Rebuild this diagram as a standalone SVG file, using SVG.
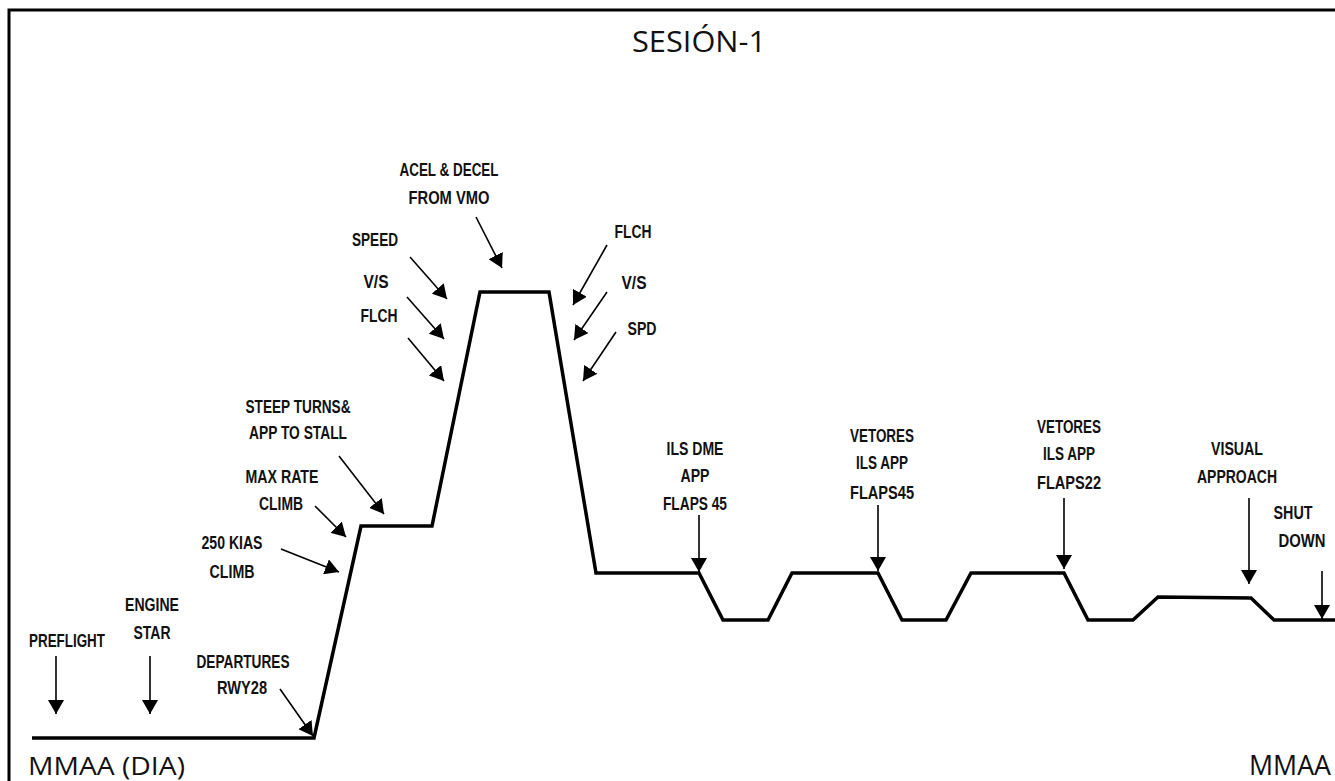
<svg xmlns="http://www.w3.org/2000/svg" width="1335" height="781" viewBox="0 0 1335 781">
<style>
.lbl{font-family:"Liberation Sans","Noto Sans",sans-serif;font-weight:bold;font-size:18px;fill:#111;text-anchor:middle}
.big{font-family:"Open Sans","Noto Sans",sans-serif;font-size:29px;fill:#111}
.arr{stroke:#000;stroke-width:1.6;fill:none;marker-end:url(#ah)}
.prof{stroke:#000;stroke-width:3.5;fill:none;stroke-linejoin:miter}
</style>
<defs>
<marker id="ah" markerUnits="userSpaceOnUse" markerWidth="15" markerHeight="16" refX="14" refY="8" orient="auto">
<path d="M0,0 L14,8 L0,16 z" fill="#000"/>
</marker>
</defs>
<rect width="1335" height="781" fill="#fff"/>
<g id="frame">
<path d="M9,781 L9,10 L1335,10" stroke="#000" stroke-width="3" fill="none"/>
</g>
<g id="title"><text class="big" x="632" y="52" textLength="134" lengthAdjust="spacingAndGlyphs">SESIÓN-1</text></g>
<g id="origin"><text class="big" x="28" y="775" textLength="157" lengthAdjust="spacingAndGlyphs" style="font-size:26px">MMAA (DIA)</text></g>
<g id="destination"><text class="big" x="1249" y="775" textLength="82" lengthAdjust="spacingAndGlyphs" style="font-size:27px">MMAA</text></g>
<g id="profile">
<path class="prof" d="M32,738 L314,738 L361,526 L432,526 L480,292 L549,292 L596,573 L699,573 L723,620 L768,620 L792,573 L878,573 L902,620 L946,620 L971,573 L1064,573 L1088,620 L1133,620 L1158,597 L1251,598 L1274,620 L1335,620"/>
</g>
<g id="preflight"><text class="lbl" x="67" y="647" textLength="76" lengthAdjust="spacingAndGlyphs">PREFLIGHT</text></g>
<g id="engine-star"><text class="lbl" x="152" y="611" textLength="54" lengthAdjust="spacingAndGlyphs">ENGINE</text><text class="lbl" x="152" y="639" textLength="37" lengthAdjust="spacingAndGlyphs">STAR</text></g>
<g id="departures"><text class="lbl" x="243" y="668" textLength="93" lengthAdjust="spacingAndGlyphs">DEPARTURES</text><text class="lbl" x="242" y="694" textLength="50" lengthAdjust="spacingAndGlyphs">RWY28</text></g>
<g id="kias-climb"><text class="lbl" x="232" y="549" textLength="61" lengthAdjust="spacingAndGlyphs">250 KIAS</text><text class="lbl" x="232" y="578" textLength="45" lengthAdjust="spacingAndGlyphs">CLIMB</text></g>
<g id="max-rate"><text class="lbl" x="282" y="483" textLength="73" lengthAdjust="spacingAndGlyphs">MAX RATE</text><text class="lbl" x="281" y="510" textLength="44" lengthAdjust="spacingAndGlyphs">CLIMB</text></g>
<g id="steep-turns"><text class="lbl" x="298" y="413" textLength="105" lengthAdjust="spacingAndGlyphs">STEEP TURNS&amp;</text><text class="lbl" x="298" y="439" textLength="98" lengthAdjust="spacingAndGlyphs">APP TO STALL</text></g>
<g id="speed"><text class="lbl" x="375" y="246" textLength="46" lengthAdjust="spacingAndGlyphs">SPEED</text></g>
<g id="vs-left"><text class="lbl" x="376" y="288" textLength="25" lengthAdjust="spacingAndGlyphs">V/S</text></g>
<g id="flch-left"><text class="lbl" x="379" y="322" textLength="37" lengthAdjust="spacingAndGlyphs">FLCH</text></g>
<g id="acel-decel"><text class="lbl" x="449" y="176" textLength="99" lengthAdjust="spacingAndGlyphs">ACEL &amp; DECEL</text><text class="lbl" x="449" y="204" textLength="81" lengthAdjust="spacingAndGlyphs">FROM VMO</text></g>
<g id="flch-right"><text class="lbl" x="633" y="238" textLength="37" lengthAdjust="spacingAndGlyphs">FLCH</text></g>
<g id="vs-right"><text class="lbl" x="634" y="289" textLength="25" lengthAdjust="spacingAndGlyphs">V/S</text></g>
<g id="spd"><text class="lbl" x="642" y="335" textLength="29" lengthAdjust="spacingAndGlyphs">SPD</text></g>
<g id="ils-dme"><text class="lbl" x="695" y="455" textLength="57" lengthAdjust="spacingAndGlyphs">ILS DME</text><text class="lbl" x="695" y="482" textLength="29" lengthAdjust="spacingAndGlyphs">APP</text><text class="lbl" x="695" y="510" textLength="64" lengthAdjust="spacingAndGlyphs">FLAPS 45</text></g>
<g id="vetores-1"><text class="lbl" x="882" y="442" textLength="64" lengthAdjust="spacingAndGlyphs">VETORES</text><text class="lbl" x="882" y="469" textLength="52" lengthAdjust="spacingAndGlyphs">ILS APP</text><text class="lbl" x="882" y="499" textLength="64" lengthAdjust="spacingAndGlyphs">FLAPS45</text></g>
<g id="vetores-2"><text class="lbl" x="1069" y="433" textLength="64" lengthAdjust="spacingAndGlyphs">VETORES</text><text class="lbl" x="1069" y="460" textLength="52" lengthAdjust="spacingAndGlyphs">ILS APP</text><text class="lbl" x="1069" y="489" textLength="64" lengthAdjust="spacingAndGlyphs">FLAPS22</text></g>
<g id="visual"><text class="lbl" x="1237" y="455" textLength="52" lengthAdjust="spacingAndGlyphs">VISUAL</text><text class="lbl" x="1237" y="483" textLength="80" lengthAdjust="spacingAndGlyphs">APPROACH</text></g>
<g id="shutdown"><text class="lbl" x="1293" y="519" textLength="39" lengthAdjust="spacingAndGlyphs">SHUT</text><text class="lbl" x="1302" y="547" textLength="47" lengthAdjust="spacingAndGlyphs">DOWN</text></g>
<g id="connectors">
<line class="arr" x1="56" y1="656" x2="56" y2="714"/>
<line class="arr" x1="150" y1="656" x2="150" y2="714"/>
<line class="arr" x1="280" y1="689" x2="313" y2="736"/>
<line class="arr" x1="281" y1="549" x2="339" y2="572"/>
<line class="arr" x1="315" y1="506" x2="346" y2="537"/>
<line class="arr" x1="339" y1="456" x2="384" y2="514"/>
<line class="arr" x1="410" y1="257" x2="447" y2="299"/>
<line class="arr" x1="407" y1="297" x2="444" y2="339"/>
<line class="arr" x1="408" y1="338" x2="444" y2="381"/>
<line class="arr" x1="476" y1="217" x2="502" y2="268"/>
<line class="arr" x1="607" y1="245" x2="573" y2="305"/>
<line class="arr" x1="607" y1="292" x2="574" y2="340"/>
<line class="arr" x1="616" y1="332" x2="583" y2="381"/>
<line class="arr" x1="699" y1="515" x2="699" y2="572"/>
<line class="arr" x1="878" y1="505" x2="878" y2="571"/>
<line class="arr" x1="1064" y1="498" x2="1064" y2="569"/>
<line class="arr" x1="1249" y1="498" x2="1249" y2="584"/>
<line class="arr" x1="1322" y1="571" x2="1322" y2="619"/>
</g>
</svg>
